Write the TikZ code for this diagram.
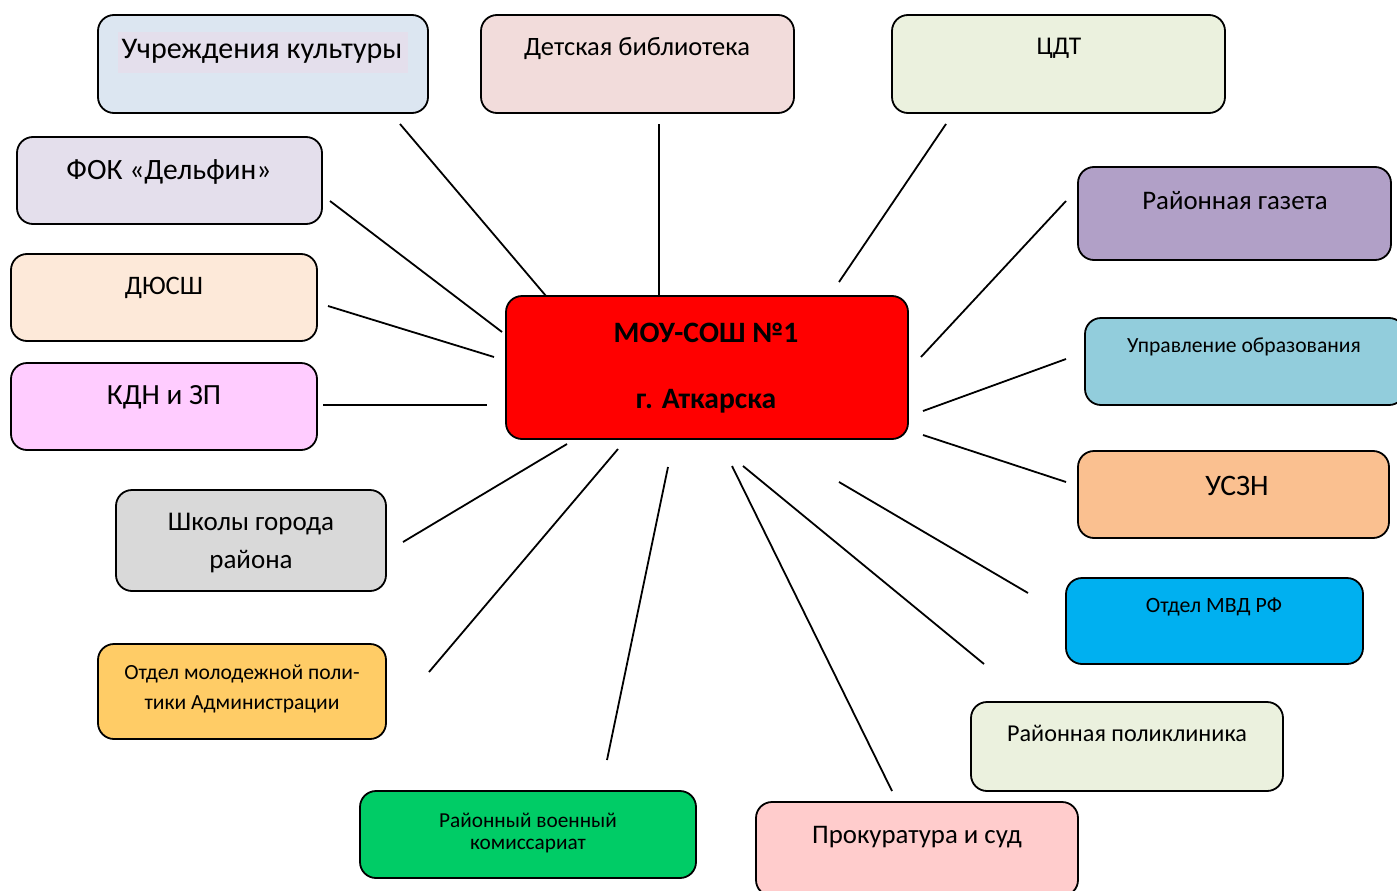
\documentclass[tikz,border=0pt]{standalone}
\usepackage{fontspec}
\setmainfont{Carlito}
\definecolor{cKult}{HTML}{DCE6F1}
\definecolor{cKultHl}{HTML}{E4DFEC}
\definecolor{cBibl}{HTML}{F2DCDB}
\definecolor{cCdt}{HTML}{EBF1DE}
\definecolor{cFok}{HTML}{E4DFEC}
\definecolor{cDyu}{HTML}{FDE9D9}
\definecolor{cKdn}{HTML}{FFCCFF}
\definecolor{cShk}{HTML}{D9D9D9}
\definecolor{cMol}{HTML}{FFCC66}
\definecolor{cVoe}{HTML}{00CC66}
\definecolor{cPro}{HTML}{FFCCCC}
\definecolor{cPol}{HTML}{EBF1DE}
\definecolor{cMvd}{HTML}{00B0F0}
\definecolor{cUsz}{HTML}{FAC090}
\definecolor{cUpr}{HTML}{92CDDC}
\definecolor{cGaz}{HTML}{B1A0C7}
\definecolor{cMain}{HTML}{FF0000}
\tikzset{
  box/.style={draw=black, line width=1.8pt, rounded corners=16pt, inner sep=0pt},
  lbl/.style={inner sep=0pt, align=center, text=black},
  link/.style={draw=black, line width=1.8pt}
}
\newcommand{\fs}[1]{\fontsize{#1}{#1}\selectfont}
\begin{document}
\begin{tikzpicture}[x=1pt,y=-1pt]
\useasboundingbox (0,0) rectangle (1397,891);
% boxes
\path[box, fill=cKult] (98,15) rectangle (428,113) node[midway] (bKult) {};
\path[box, fill=cBibl] (481,15) rectangle (794,113) node[midway] (bBibl) {};
\path[box, fill=cCdt] (892,15) rectangle (1225,113) node[midway] (bCdt) {};
\path[box, fill=cFok] (17,137) rectangle (322,224) node[midway] (bFok) {};
\path[box, fill=cDyu] (11,254) rectangle (317,341) node[midway] (bDyu) {};
\path[box, fill=cKdn] (11,363) rectangle (317,450) node[midway] (bKdn) {};
\path[box, fill=cShk] (116,490) rectangle (386,591) node[midway] (bShk) {};
\path[box, fill=cMol] (98,644) rectangle (386,739) node[midway] (bMol) {};
\path[box, fill=cVoe] (360,791) rectangle (696,878) node[midway] (bVoe) {};
\path[box, fill=cPro] (756,802) rectangle (1078,896) node[midway] (bPro) {};
\path[box, fill=cPol] (971,702) rectangle (1283,791) node[midway] (bPol) {};
\path[box, fill=cMvd] (1066,578) rectangle (1363,664) node[midway] (bMvd) {};
\path[box, fill=cUsz] (1078,451) rectangle (1389,538) node[midway] (bUsz) {};
\path[box, fill=cUpr] (1085,318) rectangle (1405,405) node[midway] (bUpr) {};
\path[box, fill=cGaz] (1078,167) rectangle (1391,260) node[midway] (bGaz) {};
\path[box, fill=cMain] (506,296) rectangle (908,439) node[midway] (bMain) {};
% texts
\fill[cKultHl] (118,32) rectangle (408,73);
\node[lbl] (tKult) at (262,51) {\fs{30}Учреждения культуры};
\node[lbl] (tBibl) at (637,49) {\fs{26.5}Детская библиотека};
\node[lbl] (tCdt) at (1059,48) {\fs{25.5}ЦДТ};
\node[lbl] (tFok) at (169,172) {\fs{29.5}ФОК «Дельфин»};
\node[lbl] (tDyu) at (164,288) {\fs{26.7}ДЮСШ};
\node[lbl] (tKdn) at (164,397) {\fs{29.3}КДН и ЗП};
\node[lbl] (tShk1) at (251,524) {\fs{27}Школы города};
\node[lbl] (tShk2) at (251,562) {\fs{27}района};
\node[lbl] (tMol1) at (242,674) {\fs{21.6}Отдел молодежной поли-};
\node[lbl] (tMol2) at (242,704) {\fs{21.6}тики Администрации};
\node[lbl] (tVoe1) at (528,820) {\fs{21.3}Районный военный};
\node[lbl] (tVoe2) at (528,846) {\fs{21.3}комиссариат};
\node[lbl] (tPro) at (917,837) {\fs{26.8}Прокуратура и суд};
\node[lbl] (tPol) at (1127,733) {\fs{24.2}Районная поликлиника};
\node[lbl] (tMvd) at (1214,607) {\fs{21.8}Отдел МВД РФ};
\node[lbl] (tUsz) at (1237,486) {\fs{29.7}УСЗН};
\node[lbl] (tUpr) at (1244,347) {\fs{21.6}Управление образования};
\node[lbl] (tGaz) at (1235,201) {\fs{26.8}Районная газета};
\node[lbl] (tMain1) at (706,333) {\fs{29.6}\bfseries МОУ-СОШ №1};
\node[lbl] (tMain2) at (706,401) {\fs{29.6}\bfseries г. Аткарска};
% connector end points
\coordinate (pKult) at (400,124);  \coordinate (mKult) at (546,296);
\coordinate (pBibl) at (659,124);  \coordinate (mBibl) at (659,296);
\coordinate (pCdt) at (946,124);   \coordinate (mCdt) at (839,282);
\coordinate (pFok) at (330,201);   \coordinate (mFok) at (502,332);
\coordinate (pDyu) at (328,306);   \coordinate (mDyu) at (494,357);
\coordinate (pKdn) at (323,405);   \coordinate (mKdn) at (487,405);
\coordinate (pShk) at (403,542);   \coordinate (mShk) at (567,444);
\coordinate (pMol) at (429,672);   \coordinate (mMol) at (618,449);
\coordinate (pVoe) at (607,760);   \coordinate (mVoe) at (668,467);
\coordinate (pPro) at (892,791);   \coordinate (mPro) at (732,466);
\coordinate (pPol) at (984,664);   \coordinate (mPol) at (743,466);
\coordinate (pMvd) at (1028,593);  \coordinate (mMvd) at (839,482);
\coordinate (pUsz) at (1066,482);  \coordinate (mUsz) at (923,435);
\coordinate (pUpr) at (1066,359);  \coordinate (mUpr) at (923,411);
\coordinate (pGaz) at (1066,201);  \coordinate (mGaz) at (921,357);
\foreach \n in {Kult,Bibl,Cdt,Fok,Dyu,Kdn,Shk,Mol,Voe,Pro,Pol,Mvd,Usz,Upr,Gaz}
  \draw[link] (p\n) -- (m\n);
\end{tikzpicture}
\end{document}
